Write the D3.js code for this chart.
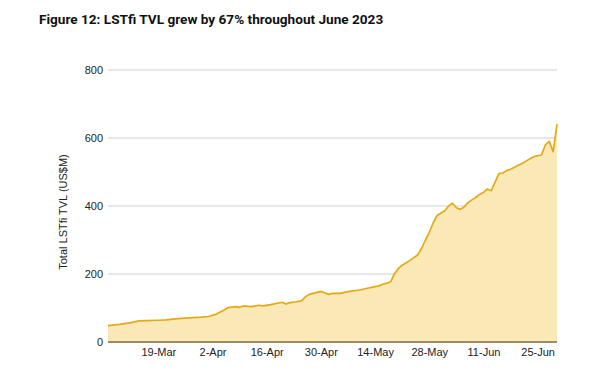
<!DOCTYPE html>
<html>
<head>
<meta charset="utf-8">
<script src="https://cdn.jsdelivr.net/npm/d3@7"></script>
<style>
  body { margin: 0; background: #fff; }
  svg { display: block; }
</style>
</head>
<body>
<script>
// days since 6-Mar-2023 and TVL in US$M
const days = [0, 3, 6, 8, 10, 13, 15, 18, 21, 24, 26, 28, 30, 31, 33, 34, 35, 37, 39, 40,
  42, 45, 46, 47, 48, 50, 51, 52, 54, 55, 56, 57, 58, 60, 62, 65, 67, 69, 70, 71,
  72, 73, 74, 75, 76, 78, 80, 81, 82, 83, 84, 85, 87, 88, 89, 90, 91, 92, 93, 94,
  95, 96, 97, 98, 99, 100, 101, 102, 103, 104, 105, 106, 107, 108, 109, 110, 111, 112, 113, 114,
  115, 116];
const tvl = [48, 52, 57, 62, 63, 64, 65, 69, 71, 73, 75, 82, 94, 101, 104, 102, 106, 104, 108, 106,
  110, 117, 112, 116, 117, 121, 133, 140, 146, 149, 145, 140, 143, 143, 148, 153, 158, 163, 165, 170,
  173, 177, 200, 216, 226, 240, 256, 275, 300, 322, 350, 372, 386, 400, 408, 395, 390, 397, 410, 418,
  425, 434, 440, 450, 445, 470, 495, 497, 504, 508, 514, 520, 525, 532, 539, 545, 548, 550, 580, 590,
  560, 641];
const tickLabels = ["19-Mar", "2-Apr", "16-Apr", "30-Apr", "14-May", "28-May", "11-Jun", "25-Jun"];
const yTicks = [0, 200, 400, 600, 800];

const W = 600, H = 378;
const start = new Date(2023, 2, 6);
const dayMs = 24 * 3600 * 1000;
const dates = days.map(d => new Date(start.getTime() + d * dayMs));
const tickDates = tickLabels.map(s => d3.timeParse("%d-%b-%Y")(s + "-2023"));

const svg = d3.select("body").append("svg")
    .attr("width", W)
    .attr("height", H);

const x = d3.scaleTime()
    .domain([start, dates[dates.length - 1]])
    .range([108, 557]);
const y = d3.scaleLinear()
    .domain([0, 800])
    .range([342, 70]);

svg.append("text")
    .attr("x", 39).attr("y", 24)
    .attr("font-family", "Roboto, sans-serif")
    .attr("font-weight", "bold")
    .attr("font-size", 13.6)
    .attr("fill", "#111")
    .text("Figure 12: LSTfi TVL grew by 67% throughout June 2023");

// gridlines
svg.append("g").selectAll("line")
    .data(yTicks.filter(v => v > 0))
    .enter().append("line")
    .attr("x1", 108).attr("x2", 557)
    .attr("y1", d => y(d)).attr("y2", d => y(d))
    .attr("stroke", "#cfcfcf")
    .attr("stroke-width", 1);

const pts = dates.map((d, i) => [d, tvl[i]]);

const area = d3.area()
    .x(d => x(d[0]))
    .y0(y(0))
    .y1(d => y(d[1]));
svg.append("path")
    .datum(pts)
    .attr("d", area)
    .attr("fill", "#fae8b6");

const line = d3.line()
    .x(d => x(d[0]))
    .y(d => y(d[1]));
svg.append("path")
    .datum(pts)
    .attr("d", line)
    .attr("fill", "none")
    .attr("stroke", "#e3aa14")
    .attr("stroke-width", 1.7)
    .attr("stroke-linejoin", "round");

// zero baseline
svg.append("line")
    .attr("x1", 108).attr("x2", 557)
    .attr("y1", y(0)).attr("y2", y(0))
    .attr("stroke", "#9c8c62")
    .attr("stroke-width", 2);

// y axis labels
const yAxis = d3.axisLeft(y).tickValues(yTicks).tickSize(0).tickPadding(5);
const gy = svg.append("g").attr("transform", "translate(108,0)").call(yAxis);
gy.select(".domain").remove();
gy.selectAll("text")
    .attr("font-family", "'Liberation Sans', Arial, sans-serif")
    .attr("font-size", 11)
    .attr("fill", "#222");

// x axis labels
const xAxis = d3.axisBottom(x).tickValues(tickDates).tickSize(0).tickPadding(6)
    .tickFormat((d, i) => tickLabels[i]);
const gx = svg.append("g").attr("transform", `translate(0,${y(0)})`).call(xAxis);
gx.select(".domain").remove();
gx.selectAll("text")
    .attr("font-family", "'Liberation Sans', Arial, sans-serif")
    .attr("font-size", 11)
    .attr("fill", "#222");

svg.append("text")
    .attr("transform", "translate(67,212) rotate(-90)")
    .attr("text-anchor", "middle")
    .attr("font-family", "'Liberation Sans', Arial, sans-serif")
    .attr("font-size", 11)
    .attr("fill", "#222")
    .text("Total LSTfi TVL (US$M)");
</script>
</body>
</html>
